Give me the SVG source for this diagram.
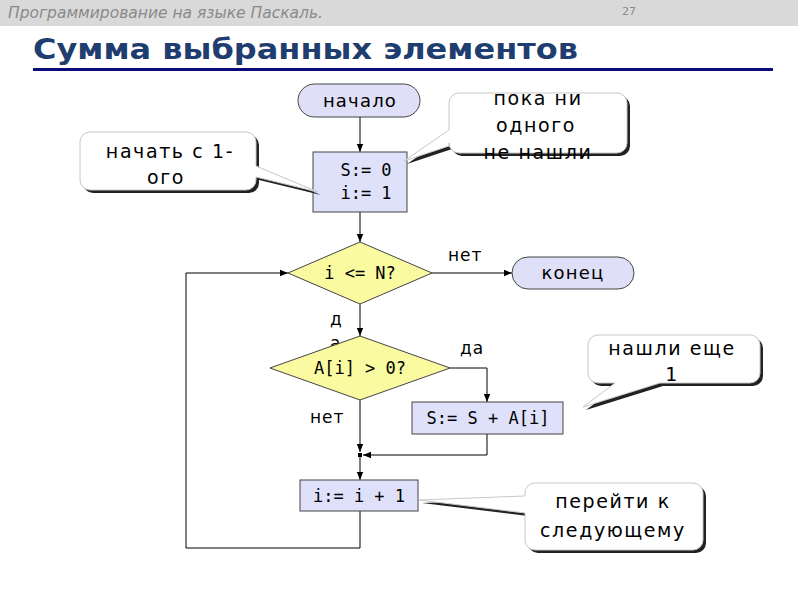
<svg xmlns="http://www.w3.org/2000/svg" width="800" height="600" viewBox="0 0 800 600">
<style>
.t{font-family:"DejaVu Sans","Liberation Sans",sans-serif;font-size:18px;letter-spacing:1.2px;fill:#000;text-anchor:middle}
.n{font-family:"DejaVu Sans","Liberation Sans",sans-serif;font-size:19px;letter-spacing:1.6px;fill:#000;text-anchor:middle}
.c{font-family:"DejaVu Sans Mono","Liberation Mono",monospace;font-size:17px;fill:#000;text-anchor:middle}
.term{fill:#dfdff7;stroke:#444;stroke-width:1}
.box{fill:#dfe0f9;stroke:#444;stroke-width:1}
.dia{fill:#fafaa0;stroke:#444;stroke-width:1}
.ln{fill:none;stroke:#000;stroke-width:1}
.cb{fill:#fff;stroke:#c8c8c8;stroke-width:1}
.sh{fill:#222}
.lab{font-family:"DejaVu Sans","Liberation Sans",sans-serif;font-size:17px;letter-spacing:1px;fill:#000}
</style>
<defs>
<marker id="ar" viewBox="0 0 10 10" refX="10" refY="5" markerWidth="8" markerHeight="8" markerUnits="userSpaceOnUse" orient="auto">
<path d="M0,1 L10,5 L0,9 Z" fill="#000"/>
</marker>
</defs>
<rect x="0" y="0" width="798" height="26" fill="#d9d9d9"/>
<text x="8" y="18" font-family="DejaVu Sans,Liberation Sans,sans-serif" font-style="italic" font-size="15" fill="#8a8a8a" textLength="315" lengthAdjust="spacingAndGlyphs">Программирование на языке Паскаль.</text>
<text x="622" y="15" font-family="DejaVu Sans,Liberation Sans,sans-serif" font-size="11" fill="#8a8a8a">27</text>
<text x="33" y="59" font-family="DejaVu Sans,Liberation Sans,sans-serif" font-weight="bold" font-size="29" fill="#1f3d6e" textLength="545" lengthAdjust="spacingAndGlyphs">Сумма выбранных элементов</text>
<rect x="33" y="68" width="740" height="3" fill="#0a0a78"/>

<g id="connectors">
<line class="ln" x1="360" y1="117" x2="360" y2="152" marker-end="url(#ar)"/>
<line class="ln" x1="360" y1="212" x2="360" y2="242" marker-end="url(#ar)"/>
<line class="ln" x1="432" y1="273" x2="512" y2="273" marker-end="url(#ar)"/>
<line class="ln" x1="360" y1="304" x2="360" y2="336" marker-end="url(#ar)"/>
<polyline class="ln" points="450,368 487,368 487,402" marker-end="url(#ar)"/>
<line class="ln" x1="360" y1="400" x2="360" y2="452" marker-end="url(#ar)"/>
<polyline class="ln" points="487,434 487,455 363,455" marker-end="url(#ar)"/>
<line class="ln" x1="360" y1="455" x2="360" y2="480" marker-end="url(#ar)"/>
<rect x="358" y="453" width="4" height="4" fill="#000"/>
<polyline class="ln" points="360,511 360,548 186,548 186,273 288,273" marker-end="url(#ar)"/>
<text class="lab" x="448" y="261">нет</text>
<text class="lab" x="330" y="325">д</text>
<text class="lab" x="330" y="349">а</text>
<text class="lab" x="460" y="354">да</text>
<text class="lab" x="310" y="423">нет</text>
</g>

<g id="start">
<rect class="term" x="298" y="84" width="122" height="33" rx="16.5"/>
<text class="t" x="360" y="107">начало</text>
</g>
<g id="init">
<rect class="box" x="313" y="152" width="94" height="60"/>
<text class="c" x="366" y="176">S:= 0</text>
<text class="c" x="366" y="199">i:= 1</text>
</g>
<g id="cond1">
<polygon class="dia" points="360,242 432,273 360,304 288,273"/>
<text class="c" x="360" y="279">i &lt;= N?</text>
</g>
<g id="end">
<rect class="term" x="512" y="257" width="122" height="32" rx="16"/>
<text class="t" x="573" y="279">конец</text>
</g>
<g id="cond2">
<polygon class="dia" points="360,336 450,368 360,400 270,368"/>
<text class="c" x="360" y="374">A[i] &gt; 0?</text>
</g>
<g id="add">
<rect class="box" x="412" y="402" width="151" height="32"/>
<text class="c" x="488" y="424">S:= S + A[i]</text>
</g>
<g id="inc">
<rect class="box" x="300" y="480" width="118" height="31"/>
<text class="c" x="359" y="502">i:= i + 1</text>
</g>

<g id="note1">
<path class="sh" transform="translate(3,3)" d="M90,132 H246 A10,10 0 0 1 256,142 V166 L318,192 L256,177 V180 A10,10 0 0 1 246,190 H90 A10,10 0 0 1 80,180 V142 A10,10 0 0 1 90,132 Z"/>
<path class="cb" d="M90,132 H246 A10,10 0 0 1 256,142 V166 L318,192 L256,177 V180 A10,10 0 0 1 246,190 H90 A10,10 0 0 1 80,180 V142 A10,10 0 0 1 90,132 Z"/>
<text class="n" x="170" y="158">начать с 1-</text>
<text class="n" x="166" y="184">ого</text>
</g>
<g id="note2">
<path class="sh" transform="translate(3,3)" d="M459,93 H617 A10,10 0 0 1 627,103 V143 A10,10 0 0 1 617,153 H459 A10,10 0 0 1 449,143 V146 L404,161 L449,130 V103 A10,10 0 0 1 459,93 Z"/>
<path class="cb" d="M459,93 H617 A10,10 0 0 1 627,103 V143 A10,10 0 0 1 617,153 H459 A10,10 0 0 1 449,143 V146 L404,161 L449,130 V103 A10,10 0 0 1 459,93 Z"/>
<text class="n" x="538" y="105">пока ни</text>
<text class="n" x="536" y="132">одного</text>
<text class="n" x="538" y="159">не нашли</text>
</g>
<g id="note3">
<path class="sh" transform="translate(3,3)" d="M598,335 H750 A10,10 0 0 1 760,345 V373 A10,10 0 0 1 750,383 H660 L583,407 L615,383 H598 A10,10 0 0 1 588,373 V345 A10,10 0 0 1 598,335 Z"/>
<path class="cb" d="M598,335 H750 A10,10 0 0 1 760,345 V373 A10,10 0 0 1 750,383 H660 L583,407 L615,383 H598 A10,10 0 0 1 588,373 V345 A10,10 0 0 1 598,335 Z"/>
<text class="n" x="672" y="355">нашли еще</text>
<text class="n" x="672" y="381">1</text>
</g>
<g id="note4">
<path class="sh" transform="translate(3,3)" d="M535,483 H693 A10,10 0 0 1 703,493 V540 A10,10 0 0 1 693,550 H535 A10,10 0 0 1 525,540 V513 L419,500 L525,496 V493 A10,10 0 0 1 535,483 Z"/>
<path class="cb" d="M535,483 H693 A10,10 0 0 1 703,493 V540 A10,10 0 0 1 693,550 H535 A10,10 0 0 1 525,540 V513 L419,500 L525,496 V493 A10,10 0 0 1 535,483 Z"/>
<text class="n" x="613" y="508">перейти к</text>
<text class="n" x="613" y="537">следующему</text>
</g>
</svg>
